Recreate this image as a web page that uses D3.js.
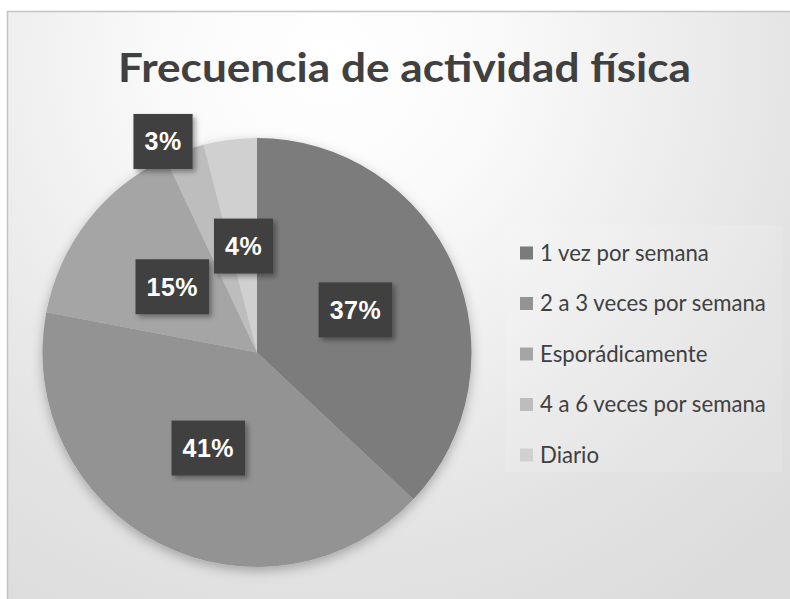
<!DOCTYPE html>
<html>
<head>
<meta charset="utf-8">
<script src="https://cdn.jsdelivr.net/npm/d3@7"></script>
<style>
  html, body { margin: 0; padding: 0; background: #ffffff; }
  svg { display: block; }
</style>
</head>
<body>
<svg id="chart" width="790" height="599"></svg>
<script>
// ---- data ----
const title = "Frecuencia de actividad física";
const categories = ["1 vez por semana", "2 a 3 veces por semana", "Esporádicamente", "4 a 6 veces por semana", "Diario"];
const values = [37, 41, 15, 3, 4];
const labels = ["37%", "41%", "15%", "3%", "4%"];

// ---- layout / style ----
const W = 790, H = 599;
const colors = ["#7b7b7b", "#939393", "#a5a5a5", "#bdbdbd", "#d0d0d0"];
const labelRadiusFactor = [0.5, 0.5, 0.5, 1.077, 0.5]; // Excel best-fit placement
const labelAngleShift = [0, 0, 0, -4.2, 0];            // degrees
const cx = 257, cy = 352.5, R = 214.5;

const svg = d3.select("#chart");
const defs = svg.append("defs");

const bg = defs.append("radialGradient").attr("id", "bgGrad")
  .attr("gradientUnits", "userSpaceOnUse")
  .attr("cx", 330).attr("cy", 60).attr("r", 650);
bg.append("stop").attr("offset", "0%").attr("stop-color", "#ffffff");
bg.append("stop").attr("offset", "25%").attr("stop-color", "#fafafa");
bg.append("stop").attr("offset", "75%").attr("stop-color", "#e3e3e3");
bg.append("stop").attr("offset", "100%").attr("stop-color", "#dcdcdc");

const pieShadow = defs.append("filter").attr("id", "pieShadow")
  .attr("x", "-20%").attr("y", "-20%").attr("width", "140%").attr("height", "140%");
pieShadow.append("feDropShadow").attr("dx", 0).attr("dy", 4).attr("stdDeviation", 6)
  .attr("flood-color", "#000").attr("flood-opacity", 0.28);

const boxShadow = defs.append("filter").attr("id", "boxShadow")
  .attr("x", "-30%").attr("y", "-30%").attr("width", "160%").attr("height", "160%");
boxShadow.append("feDropShadow").attr("dx", 3).attr("dy", 3).attr("stdDeviation", 2.5)
  .attr("flood-color", "#000").attr("flood-opacity", 0.35);

// background + border
svg.append("rect").attr("x", 7.5).attr("y", 11.5).attr("width", W).attr("height", H)
  .attr("fill", "url(#bgGrad)").attr("stroke", "#c4c4c4").attr("stroke-width", 1.5);

// title
svg.append("text")
  .attr("x", 404.5).attr("y", 82)
  .attr("text-anchor", "middle")
  .attr("font-family", "Lato, 'Open Sans', sans-serif")
  .attr("font-weight", 700)
  .attr("font-size", 40.5)
  .attr("fill", "#404040")
  .attr("textLength", 573)
  .attr("lengthAdjust", "spacingAndGlyphs")
  .text(title);

// pie
const pie = d3.pie().sort(null).value(d => d)(values);
const arc = d3.arc().innerRadius(0).outerRadius(R);

const g = svg.append("g").attr("transform", `translate(${cx},${cy})`);
g.append("g").attr("filter", "url(#pieShadow)")
  .selectAll("path").data(pie).join("path")
  .attr("d", arc)
  .attr("fill", (d, i) => colors[i])
  .attr("stroke", "none");

// data labels
const lg = g.append("g");
pie.forEach((d, i) => {
  const f = labelRadiusFactor[i];
  const shift = labelAngleShift[i] * Math.PI / 180;
  const la = d3.arc().innerRadius(R * f).outerRadius(R * f);
  const [x, y] = la.centroid({startAngle: d.startAngle + shift, endAngle: d.endAngle + shift});
  const grp = lg.append("g").attr("transform", `translate(${x},${y})`);
  const rect = grp.append("rect").attr("fill", "#404040").attr("filter", "url(#boxShadow)");
  const t = grp.append("text")
    .attr("text-anchor", "middle")
    .attr("dy", "0.36em")
    .attr("font-family", "'Liberation Sans', Arial, sans-serif")
    .attr("font-weight", 700)
    .attr("font-size", 25)
    .attr("letter-spacing", 0.5)
    .attr("fill", "#ffffff")
    .text(labels[i]);
  const w = t.node().getComputedTextLength() + 22;
  rect.attr("x", -w / 2).attr("y", -27.5).attr("width", w).attr("height", 55);
});

// legend
const legend = svg.append("g");
legend.append("rect").attr("x", 505).attr("y", 225).attr("width", 277).attr("height", 247)
  .attr("fill", "#ffffff").attr("fill-opacity", 0.12);
const rowY = d3.scalePoint().domain(categories).range([253, 455]);
const texts = [];
categories.forEach((c, i) => {
  const y = rowY(c);
  legend.append("rect").attr("x", 520).attr("y", y - 6.5).attr("width", 13).attr("height", 13)
    .attr("fill", colors[i]);
  texts.push(legend.append("text").attr("x", 540).attr("y", y).attr("dy", "0.35em")
    .attr("font-family", "Lato, 'Open Sans', sans-serif")
    .attr("font-size", 20)
    .attr("fill", "#404040")
    .text(c));
});
// fit legend font so the longest entry spans ~226px as in the reference
const maxW = d3.max(texts, t => t.node().getComputedTextLength());
const fs = 20 * 226 / maxW;
texts.forEach(t => t.attr("font-size", fs));
</script>
</body>
</html>
